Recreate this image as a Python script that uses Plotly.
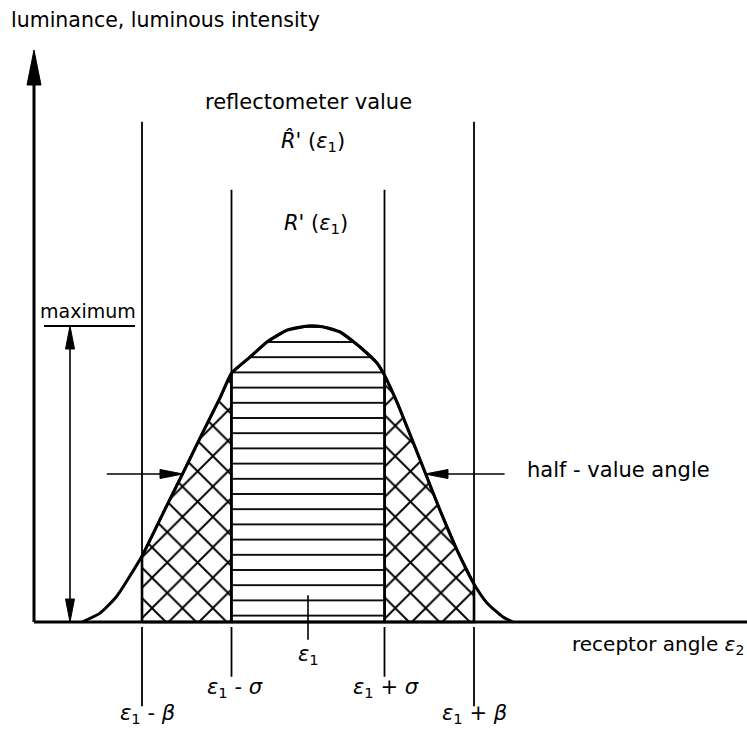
import plotly.graph_objects as go

# Luminance profile over the receptor angle.
# angle: offset from ε1 in units of σ; luminance: relative to its maximum.
angle = [-2.954, -2.719, -2.497, -2.288, -2.170, -2.065, -1.843, -1.634, -1.386, -1.150,
         -1.000, -0.758, -0.536, -0.275, 0.000, 0.196, 0.418, 0.680, 0.902, 1.000,
         1.163, 1.359, 1.529, 1.725, 1.948, 2.170, 2.340, 2.549, 2.680]
luminance = [0.000, 0.030, 0.088, 0.172, 0.223, 0.277, 0.395, 0.503, 0.635, 0.757,
             0.841, 0.895, 0.946, 0.986, 1.000, 0.997, 0.980, 0.929, 0.875, 0.834,
             0.743, 0.618, 0.507, 0.378, 0.243, 0.128, 0.064, 0.017, 0.000]

eps1 = 0.0          # nominal receptor angle ε1
sigma = 1.0         # half aperture of the receptor (σ)
beta = 2.17         # half aperture of the source image (β)
max_value = 1.0     # maximum of the profile
half_value = 0.5    # level of the half-value angle
half_left = -1.634  # profile crosses the half value here ...
half_right = 1.529  # ... and here

# drawing scale (pixels per unit) and the visible window
PX_X = 76.5
PX_Y = 296.0
X0, X1 = -308 / PX_X, 439 / PX_X
Y0, Y1 = -107 / PX_Y, 622 / PX_Y

FONT = dict(family="DejaVu Sans", size=21, color="black")
INK = "black"

fig = go.Figure()


def region(a, b):
    """Area under the profile between angles a and b."""
    xs = [a] + [x for x in angle if a <= x <= b] + [b, a]
    ys = [0.0] + [y for x, y in zip(angle, luminance) if a <= x <= b] + [0.0, 0.0]
    return xs, ys


def seg(x, y, width):
    fig.add_trace(go.Scatter(x=x, y=y, mode="lines",
                             line=dict(color=INK, width=width),
                             hoverinfo="skip"))


def arrowhead(tx, ty, direction, length, width):
    """Filled triangular arrowhead with its tip at (tx, ty); sizes in pixels."""
    lx, ly = length / PX_X, length / PX_Y
    wx, wy = width / 2 / PX_X, width / 2 / PX_Y
    if direction == "up":
        xs, ys = [tx, tx - wx, tx + wx], [ty, ty - ly, ty - ly]
    elif direction == "down":
        xs, ys = [tx, tx - wx, tx + wx], [ty, ty + ly, ty + ly]
    elif direction == "right":
        xs, ys = [tx, tx - lx, tx - lx], [ty, ty - wy, ty + wy]
    else:
        xs, ys = [tx, tx + lx, tx + lx], [ty, ty - wy, ty + wy]
    fig.add_trace(go.Scatter(x=xs + [xs[0]], y=ys + [ys[0]], mode="lines",
                             fill="toself", fillcolor=INK,
                             line=dict(color=INK, width=1), hoverinfo="skip"))


# cross-hatched flanks between σ and β
for a, b in [(eps1 - beta, eps1 - sigma), (eps1 + sigma, eps1 + beta)]:
    xs, ys = region(a, b)
    fig.add_trace(go.Scatter(
        x=xs, y=ys, mode="lines", fill="toself", fillcolor="white",
        fillpattern=dict(shape="x", size=21.5, solidity=0.17, fgopacity=1,
                         fgcolor=INK, bgcolor="white", fillmode="replace"),
        line=dict(color=INK, width=2.6), hoverinfo="skip"))

# horizontally hatched core between -σ and +σ
xs, ys = region(eps1 - sigma, eps1 + sigma)
fig.add_trace(go.Scatter(
    x=xs, y=ys, mode="lines", fill="toself", fillcolor="white",
    fillpattern=dict(shape="-", size=15.2, solidity=0.12, fgopacity=1,
                     fgcolor=INK, bgcolor="white", fillmode="replace"),
    line=dict(color=INK, width=2.6), hoverinfo="skip"))

# boundary lines at ε1 ± β and ε1 ± σ (above and below the axis)
for off, top, bottom in [(beta, 1.69, -0.285), (sigma, 1.46, -0.185)]:
    for sgn in (-1, 1):
        x = eps1 + sgn * off
        seg([x, x], [0, top], 1.8)
        seg([x, x], [-0.017, bottom], 1.8)

# tick at ε1
seg([eps1, eps1], [0.09, -0.06], 1.6)

# luminance profile
fig.add_trace(go.Scatter(x=angle, y=luminance, mode="lines",
                         line=dict(color=INK, width=3, shape="spline", smoothing=0.6),
                         hoverinfo="skip"))

# axes with arrowheads
x_axis0 = -274 / PX_X
x_tip = 746 / PX_X
y_tip = 572 / PX_Y
seg([x_axis0, x_axis0], [0, y_tip - 30 / PX_Y], 3)
arrowhead(x_axis0, y_tip, "up", 35, 14)
seg([x_axis0, x_tip - 26 / PX_X], [0, 0], 3)
arrowhead(x_tip, 0, "right", 30, 14)

# dimension of the maximum
x_dim = -238 / PX_X
seg([-3.45, -2.26], [max_value, max_value], 1.8)
seg([x_dim, x_dim], [0.03, max_value - 0.04], 1.6)
arrowhead(x_dim, max_value, "up", 23, 9)
arrowhead(x_dim, 0.0, "down", 23, 9)

# half-value angle arrows
seg([-2.63, half_left - 0.15], [half_value, half_value], 1.6)
arrowhead(half_left, half_value, "right", 23, 9)
seg([2.57, half_right + 0.15], [half_value, half_value], 1.6)
arrowhead(half_right, half_value, "left", 23, 9)


def label(x, y, text, xanchor="center", yanchor="middle", size=None):
    f = dict(FONT)
    if size:
        f["size"] = size
    fig.add_annotation(x=x, y=y, text=text, showarrow=False, font=f,
                       xanchor=xanchor, yanchor=yanchor)


e1 = "<i>ε</i><sub>1</sub>"
label(-3.91, 2.034, "luminance, luminous intensity", xanchor="left", size=20.5)
label(0.0, 1.757, "reflectometer value")
label(0.07, 1.625, "<i>R̂</i>' (" + e1 + ")")
label(0.1, 1.345, "<i>R</i>' (" + e1 + ")")
label(-2.876, max_value + 0.008, "maximum", yanchor="bottom", size=19)
label(2.837, 0.514, "half - value angle", xanchor="left")
label(3.425, -0.078, "receptor angle <i>ε</i><sub>2</sub>", xanchor="left", size=20)
label(eps1, -0.111, e1)
label(eps1 - sigma + 0.04, -0.223, e1 + " - <i>σ</i>")
label(eps1 + sigma + 0.02, -0.223, e1 + " + <i>σ</i>")
label(eps1 - beta + 0.07, -0.312, e1 + " - <i>β</i>")
label(eps1 + beta, -0.312, e1 + " + <i>β</i>")

fig.update_layout(
    width=747, height=729,
    margin=dict(l=0, r=0, t=0, b=0),
    paper_bgcolor="white", plot_bgcolor="white",
    showlegend=False,
    xaxis=dict(range=[X0, X1], visible=False, fixedrange=True),
    yaxis=dict(range=[Y0, Y1], visible=False, fixedrange=True),
)

fig.write_html("out.html")
